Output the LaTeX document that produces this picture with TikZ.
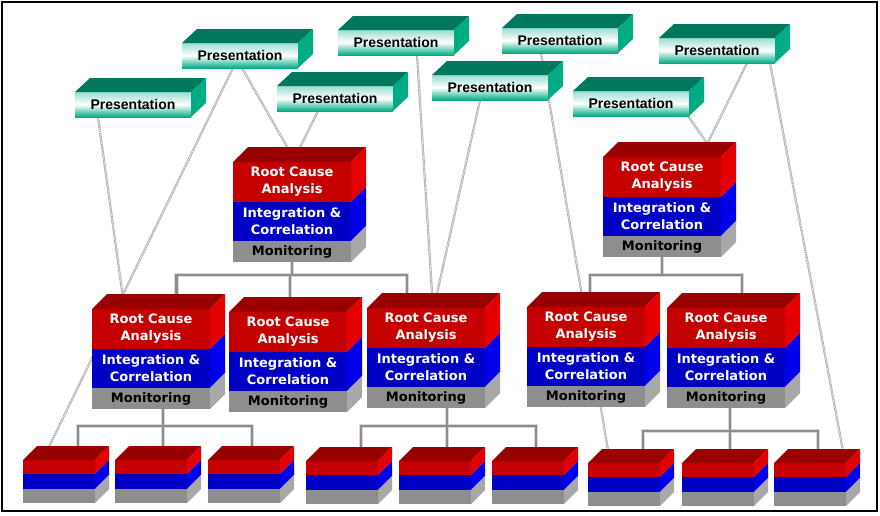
\documentclass[tikz,border=0pt]{standalone}
\usepackage{fontspec}
\newfontfamily\presfont{Liberation Sans}
\newfontfamily\layerfont{DejaVu Sans}
\usetikzlibrary{backgrounds}

\definecolor{presTop}{RGB}{0,120,94}
\definecolor{presSide}{RGB}{0,172,132}
\definecolor{rcaTop}{RGB}{153,0,0}
\definecolor{rcaFront}{RGB}{196,0,0}
\definecolor{rcaSide}{RGB}{226,0,0}
\definecolor{icFront}{RGB}{0,0,196}
\definecolor{icSide}{RGB}{0,0,234}
\definecolor{monFront}{RGB}{142,142,142}
\definecolor{monSide}{RGB}{168,168,168}

\tikzset{
	face/.style={inner sep=0pt, outer sep=0pt, align=center},
	presface/.style={face, anchor=north west, minimum width=116pt, minimum height=25pt,
		top color=presSide!40, bottom color=presSide, middle color=white,
		font=\presfont\bfseries\fontsize{14}{16}\selectfont},
	layer/.style={face, minimum width=118pt, text=white,
		font=\layerfont\bfseries\fontsize{13}{17}\selectfont},
	cellface/.style={face, anchor=north, minimum width=72pt},
	tree/.style={draw=gray!90, line width=2.4pt, preaction={draw=gray!30, line width=4.4pt}},
	feed/.style={draw=gray!60, line width=2.2pt,
		postaction={draw=white, line width=0.8pt, dash pattern=on 1pt off 1.2pt}},
	pres/.pic={
		\node[presface] (-f) {Presentation};
		\fill[presTop] (-f.north west) -- ++(15,-14) -- ++(116,0) -- (-f.north east) -- cycle;
		\fill[presSide] (-f.north east) -- ++(15,-14) -- ++(0,25) -- (-f.south east) -- cycle;
	},
	stack/.pic={
		\node[layer, anchor=north west, fill=rcaFront, minimum height=40pt] (-rca) {Root Cause\\Analysis};
		\node[layer, anchor=north, fill=icFront, minimum height=39pt] (-ic) at (-rca.south) {Integration \&\\Correlation};
		\node[layer, anchor=north, fill=monFront, minimum height=21pt, text=black] (-mon) at (-ic.south) {Monitoring};
		\fill[rcaTop] (-rca.north west) -- ++(15,-15) -- ++(118,0) -- (-rca.north east) -- cycle;
		\fill[rcaSide] (-rca.north east) -- ++(15,-15) -- ++(0,40) -- (-rca.south east) -- cycle;
		\fill[icSide] (-ic.north east) -- ++(15,-15) -- ++(0,39) -- (-ic.south east) -- cycle;
		\fill[monSide] (-mon.north east) -- ++(15,-15) -- ++(0,21) -- (-mon.south east) -- cycle;
		\coordinate (-top) at ([shift={(7.5,-7.5)}]-rca.north);
	},
	cell/.pic={
		\node[cellface, anchor=north west, fill=rcaFront, minimum height=14pt] (-r) {};
		\node[cellface, fill=icFront, minimum height=15pt] (-b) at (-r.south) {};
		\node[cellface, fill=monFront, minimum height=14pt] (-g) at (-b.south) {};
		\fill[rcaTop] (-r.north west) -- ++(14,-14) -- ++(72,0) -- (-r.north east) -- cycle;
		\fill[rcaSide] (-r.north east) -- ++(14,-14) -- ++(0,14) -- (-r.south east) -- cycle;
		\fill[icSide] (-b.north east) -- ++(14,-14) -- ++(0,15) -- (-b.south east) -- cycle;
		\fill[monSide] (-g.north east) -- ++(14,-14) -- ++(0,14) -- (-g.south east) -- cycle;
		\coordinate (-top) at ([shift={(7,-7)}]-r.north);
	}
}

\begin{document}
\begin{tikzpicture}[x=1pt, y=-1pt]
	\useasboundingbox (0,0) rectangle (880,515);
	\draw[line width=1.2pt] (2,2) rectangle (877,511);

	\pic (s0) at (233,162) {stack};
	\pic (s1) at (92,309) {stack};
	\pic (s2) at (229,312) {stack};
	\pic (s3) at (367,308) {stack};
	\pic (s4) at (527,307) {stack};
	\pic (s5) at (667,308) {stack};
	\pic (s6) at (603,157) {stack};

	\foreach \x [count=\k] in {23,115,208}
		\pic (gl\k) at (\x,460) {cell};
	\foreach \x [count=\k] in {306,399,492}
		\pic (gm\k) at (\x,461) {cell};
	\foreach \x [count=\k] in {588,682,774}
		\pic (gr\k) at (\x,463) {cell};

	\pic (p1) at (75,92) {pres};
	\pic (p2) at (182,43) {pres};
	\pic (p3) at (277,86) {pres};
	\pic (p4) at (338,30) {pres};
	\pic (p5) at (502,28) {pres};
	\pic (p6) at (432,75) {pres};
	\pic (p7) at (659,38) {pres};
	\pic (p8) at (573,91) {pres};

	\begin{scope}[on background layer]
		% tree links
		\draw[tree] (s0-mon.south) -- ++(0,13) coordinate (busA)
			-| ([xshift=18pt]s1-top) (busA) -| ([xshift=-5.5pt]s2-top) (busA) -| ([xshift=-26.5pt]s3-top);
		\draw[tree] (s6-mon.south) -- ++(0,18) coordinate (busB)
			-| ([xshift=-3.5pt]s4-top) (busB) -| ([xshift=8.5pt]s5-top);
		\draw[tree] ([xshift=12pt]s1-mon.south) -- ++(0,17) coordinate (busL)
			-| ([xshift=12pt]gl1-top) (busL) -| ([xshift=5pt]gl2-top) (busL) -| ([xshift=1pt]gl3-top);
		\draw[tree] ([xshift=21pt]s3-mon.south) -- ++(0,18) coordinate (busM)
			-| ([xshift=12pt]gm1-top) (busM) -| ([xshift=5pt]gm2-top) (busM) -| ([xshift=1pt]gm3-top);
		\draw[tree] ([xshift=4pt]s5-mon.south) -- ++(0,23) coordinate (busR)
			-| ([xshift=12pt]gr1-top) (busR) -| ([xshift=5pt]gr2-top) (busR) -| ([xshift=1pt]gr3-top);
		% presentation feeds
		\draw[feed] ([xshift=-35pt]p1-f.south) -- ([xshift=-35pt]s1-top);
		\draw[feed] ([xshift=-7pt]p2-f.south) -- ([xshift=-20pt]gl1-top);
		\draw[feed] ([xshift=2pt]p2-f.south) -- ([xshift=-8pt]s0-top);
		\draw[feed] ([xshift=-17pt]p3-f.south) -- ([xshift=-3pt]s0-top);
		\draw[feed] ([xshift=21pt]p4-f.south) -- ([xshift=-1pt]s3-top);
		\draw[feed] ([xshift=-10pt]p6-f.south) -- ([xshift=2pt]s3-top);
		\draw[feed] ([xshift=-19pt]p5-f.south) -- ([xshift=-22pt]gr1-top);
		\draw[feed] ([xshift=57pt]p8-f.south) -- ([xshift=42pt]s6-top);
		\draw[feed] ([xshift=30pt]p7-f.south) -- ([xshift=35pt]s6-top);
		\draw[feed] ([xshift=53pt]p7-f.south) -- ([xshift=27pt]gr3-top);
	\end{scope}
\end{tikzpicture}
\end{document}
